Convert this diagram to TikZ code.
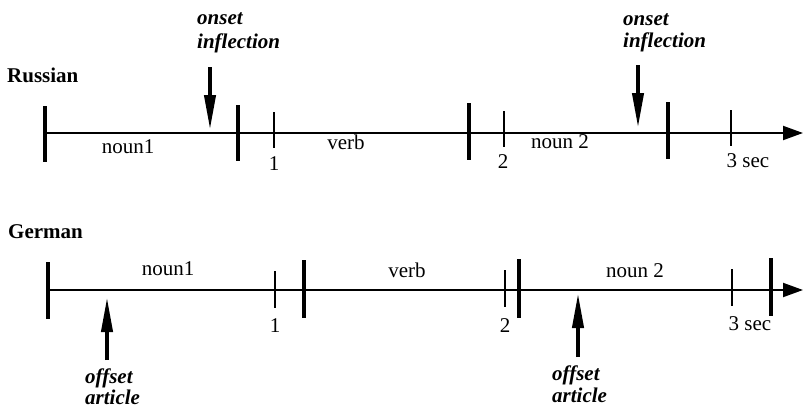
\documentclass[tikz,border=0pt]{standalone}
\usepackage{fontspec}
\setmainfont{Liberation Serif}
\usetikzlibrary{arrows.meta}
\begin{document}
\begin{tikzpicture}[x=1pt,y=-1pt,
  axis/.style={line width=2pt,-{Triangle[length=20pt,width=14pt]}},
  bigbar/.style={line width=4.5pt},
  smalltick/.style={line width=1.6pt},
  lbl/.style={font=\fontsize{21}{25}\selectfont, inner sep=0pt, anchor=base},
  langlbl/.style={font=\fontsize{21}{25}\selectfont\bfseries, inner sep=0pt, anchor=base west},
  notelbl/.style={font=\fontsize{21}{25}\selectfont\bfseries\itshape, inner sep=0pt, anchor=base west},
  pointer/.style={line width=4pt,-{Triangle[length=35pt,width=11pt]}}]
\useasboundingbox (0,0) rectangle (807,407);
% ---------- Russian ----------
\node[langlbl] (rus) at (7,82) {Russian};
\coordinate (rs) at (45,133);
\coordinate (re) at (803,133);
\draw[axis] (rs) -- (re);
\draw[bigbar] (45,106) -- (45,162);
\draw[bigbar] (238,105) -- (238,161);
\draw[bigbar] (469,103) -- (469,160);
\draw[bigbar] (668,102) -- (668,159);
\draw[smalltick] (274,112) -- (274,148);
\draw[smalltick] (504,111) -- (504,147);
\draw[smalltick] (731,110) -- (731,146);
\node[lbl] (rn1) at (128,153) {noun1};
\node[lbl] (rvb) at (346,149) {verb};
\node[lbl] (rn2) at (560,148) {noun 2};
\node[lbl] (rt1) at (274,170) {1};
\node[lbl] (rt2) at (503,168) {2};
\node[lbl] (rt3) at (748,167) {3 sec};
\node[notelbl] (ron1) at (197,24) {onset};
\node[notelbl] (rin1) at (197,48) {inflection};
\node[notelbl] (ron2) at (623,25) {onset};
\node[notelbl] (rin2) at (623,47) {inflection};
\coordinate (ra1s) at (210,67);
\coordinate (ra1e) at (210,130);
\coordinate (ra2s) at (638,65);
\coordinate (ra2e) at (638,128);
\draw[pointer] (ra1s) -- (ra1e);
\draw[pointer] (ra2s) -- (ra2e);
% ---------- German ----------
\node[langlbl] (ger) at (8,238) {German};
\coordinate (gs) at (48,290);
\coordinate (ge) at (803,290);
\draw[axis] (gs) -- (ge);
\draw[bigbar] (48,262) -- (48,319);
\draw[bigbar] (304,260) -- (304,318);
\draw[bigbar] (519,259) -- (519,318);
\draw[bigbar] (771,258) -- (771,316);
\draw[smalltick] (275,271) -- (275,308);
\draw[smalltick] (505,270) -- (505,307);
\draw[smalltick] (732,269) -- (732,306);
\node[lbl] (gn1) at (168,275) {noun1};
\node[lbl] (gvb) at (407,277) {verb};
\node[lbl] (gn2) at (635,277) {noun 2};
\node[lbl] (gt1) at (275,332) {1};
\node[lbl] (gt2) at (505,332) {2};
\node[lbl] (gt3) at (750,330) {3 sec};
\node[notelbl] (gof1) at (85,383) {offset};
\node[notelbl] (gar1) at (85,404) {article};
\node[notelbl] (gof2) at (552,380) {offset};
\node[notelbl] (gar2) at (552,402) {article};
\coordinate (ga1s) at (107,360);
\coordinate (ga1e) at (107,297);
\coordinate (ga2s) at (578,357);
\coordinate (ga2e) at (578,293);
\draw[pointer] (ga1s) -- (ga1e);
\draw[pointer] (ga2s) -- (ga2e);
\end{tikzpicture}
\end{document}
